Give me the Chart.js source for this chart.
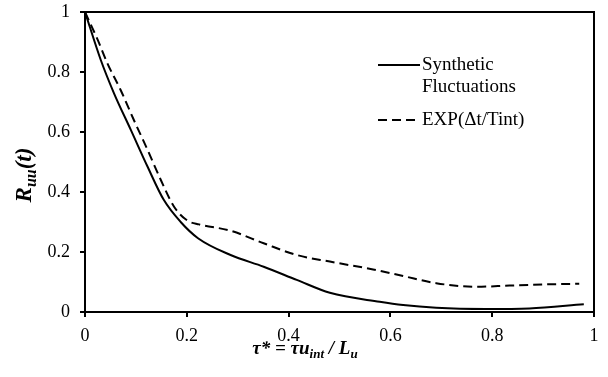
<!DOCTYPE html>
<html>
<head>
<meta charset="utf-8">
<script src="https://cdn.jsdelivr.net/npm/chart.js@4"></script>
<style>
  html, body { margin: 0; padding: 0; background: #fff; }
  #wrap { width: 608px; height: 377px; }
</style>
</head>
<body>
<div id="wrap"><canvas id="grafico" width="608" height="377"></canvas></div>
<script>
// values
const tauSynthetic = [0, 0.031, 0.057, 0.09, 0.123, 0.155, 0.188, 0.222, 0.286, 0.351, 0.416, 0.481, 0.579, 0.625, 0.69, 0.788, 0.873, 0.98];
const rSynthetic   = [1, 0.84, 0.729, 0.607, 0.484, 0.373, 0.3, 0.246, 0.19, 0.151, 0.107, 0.064, 0.034, 0.023, 0.014, 0.01, 0.012, 0.026];
const tauExp = [0, 0.025, 0.044, 0.07, 0.096, 0.123, 0.149, 0.175, 0.201, 0.224, 0.286, 0.351, 0.416, 0.481, 0.566, 0.625, 0.69, 0.768, 0.834, 0.905, 0.971];
const rExp   = [1, 0.907, 0.829, 0.74, 0.64, 0.54, 0.44, 0.351, 0.305, 0.292, 0.271, 0.229, 0.19, 0.168, 0.142, 0.12, 0.096, 0.084, 0.088, 0.092, 0.094];
const xTicks = [0, 0.2, 0.4, 0.6, 0.8, 1];
const yTicks = [0, 0.2, 0.4, 0.6, 0.8, 1];

const serif = '"Liberation Serif", "Times New Roman", serif';

function pts(xs, ys) {
  return xs.map((x, i) => ({ x: x, y: ys[i] }));
}

// draws text pieces with subscripts in a row, centred on cx
function drawParts(c, parts, cx, baseY) {
  let w = 0;
  parts.forEach(p => { c.font = p[1]; w += c.measureText(p[0]).width; });
  let x = cx - w / 2;
  parts.forEach(p => {
    c.font = p[1];
    c.fillText(p[0], x, baseY + p[2]);
    x += c.measureText(p[0]).width;
  });
}

// frame, legend and axis titles drawn by hand
const extras = {
  id: 'extras',
  afterDraw(chart) {
    const c = chart.ctx;
    const a = chart.chartArea;
    c.save();
    c.strokeStyle = '#000';
    c.lineWidth = 2;
    c.beginPath();
    c.moveTo(a.left, a.top);
    c.lineTo(a.right, a.top);
    c.lineTo(a.right, a.bottom);
    c.stroke();

    // legend
    c.fillStyle = '#000';
    c.font = '19px ' + serif;
    c.textBaseline = 'middle';
    c.textAlign = 'left';
    c.beginPath();
    c.moveTo(378, 65); c.lineTo(420, 65);
    c.stroke();
    c.fillText('Synthetic', 422, 65);
    c.fillText('Fluctuations', 422, 87);
    c.setLineDash([9, 5]);
    c.beginPath();
    c.moveTo(378, 120); c.lineTo(420, 120);
    c.stroke();
    c.setLineDash([]);
    c.fillText('EXP(\u0394t/Tint)', 422, 120);

    c.textBaseline = 'alphabetic';
    // x title: τ* = τu_int / L_u
    const big = 'italic bold 19px ' + serif;
    const sub = 'italic bold 13px ' + serif;
    drawParts(c, [
      ['\u03c4* = \u03c4', big, 0], ['u', big, 0], ['int', sub, 4],
      [' / ', big, 0], ['L', big, 0], ['u', sub, 4]
    ], 305, 354);

    // y title: R_uu(t)
    const ybig = 'italic bold 23px ' + serif;
    const ysub = 'italic bold 16px ' + serif;
    c.translate(31, 175);
    c.rotate(-Math.PI / 2);
    drawParts(c, [['R', ybig, 0], ['uu', ysub, 5], ['(', ybig, 0], ['t', ybig, 0], [')', ybig, 0]], 0, 0);
    c.restore();
  }
};

new Chart(document.getElementById('grafico'), {
  type: 'scatter',
  data: {
    datasets: [
      {
        label: 'Synthetic Fluctuations',
        data: pts(tauSynthetic, rSynthetic),
        showLine: true,
        borderColor: '#000',
        borderWidth: 2,
        pointRadius: 0,
        cubicInterpolationMode: 'monotone'
      },
      {
        label: 'EXP(\u0394t/Tint)',
        data: pts(tauExp, rExp),
        showLine: true,
        borderColor: '#000',
        borderWidth: 2,
        borderDash: [9, 5],
        pointRadius: 0,
        cubicInterpolationMode: 'monotone'
      }
    ]
  },
  options: {
    responsive: false,
    animation: false,
    layout: { padding: { top: 12, right: 14, left: 0, bottom: 0 } },
    plugins: { legend: { display: false }, tooltip: { enabled: false } },
    scales: {
      x: {
        type: 'linear',
        min: 0, max: 1,
        afterBuildTicks: s => { s.ticks = xTicks.map(v => ({ value: v })); },
        afterFit: s => { s.height = 65; s.paddingLeft = 0; s.paddingRight = 0; },
        grid: { drawOnChartArea: false, drawTicks: true, tickLength: 5, color: '#000', lineWidth: 2 },
        border: { color: '#000', width: 2 },
        ticks: {
          color: '#000', padding: 8,
          font: { family: serif, size: 18 },
          callback: v => String(v)
        }
      },
      y: {
        min: 0, max: 1,
        afterBuildTicks: s => { s.ticks = yTicks.map(v => ({ value: v })); },
        afterFit: s => { s.width = 85; s.paddingTop = 0; s.paddingBottom = 0; },
        grid: { drawOnChartArea: false, drawTicks: true, tickLength: 5, color: '#000', lineWidth: 2 },
        border: { color: '#000', width: 2 },
        ticks: {
          color: '#000', padding: 10,
          font: { family: serif, size: 18 },
          callback: v => String(v)
        }
      }
    }
  },
  plugins: [extras]
});
</script>
</body>
</html>
